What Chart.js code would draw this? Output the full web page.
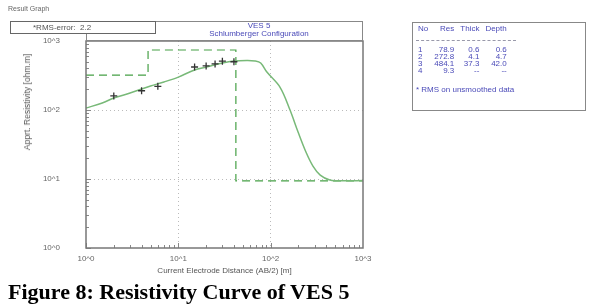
<!DOCTYPE html>
<html>
<head>
<meta charset="utf-8">
<script src="https://cdn.jsdelivr.net/npm/chart.js@4.4.1/dist/chart.umd.min.js"></script>
<style>
  body { margin: 0; background: #fff; font-family: Arial, "Liberation Sans", sans-serif; }
  #wrap { position: relative; width: 592px; height: 305px; overflow: hidden; }
  #ves_chart { position: absolute; left: 0; top: 0; }
  .abs { position: absolute; white-space: nowrap; }
  #result_label { left: 8px; top: 5px; font-size: 7px; color: #666; }
  #title_panel { left: 86px; top: 21px; width: 277px; height: 20px; border: 1px solid #888; box-sizing: border-box; }
  #title_text { left: 155px; top: 22px; width: 208px; text-align: center; font-size: 8px; line-height: 8px; color: #4a4ab8; }
  #rms_box { left: 10px; top: 21px; width: 146px; height: 13px; border: 1px solid #666; background: #fff; box-sizing: border-box; font-size: 8px; line-height: 11px; color: #555; padding-left: 22px; }
  #y_title { left: 27px; top: 102px; transform: translate(-50%, -50%) rotate(-90deg); font-size: 8.5px; color: #555; }
  #layer_box { left: 412px; top: 22px; width: 174px; height: 89px; border: 1px solid #888; box-sizing: border-box; color: #4a4ab8; font-size: 8px; }
  #layer_box table { position: absolute; left: 2px; top: -2px; border-collapse: collapse; }
  #layer_box td { padding: 0 3px; line-height: 7px; text-align: right; }
  #layer_box td:first-child { text-align: left; }
  #layer_sep { left: 3px; top: 17px; width: 100px; border-top: 1px dashed #99a; }
  #layer_note { left: 3px; top: 62px; }
  #caption { left: 8px; top: 279px; font-family: "Liberation Serif", "Times New Roman", serif; font-weight: bold; font-size: 22px; color: #000; }
</style>
</head>
<body>
<div id="wrap">
  <canvas id="ves_chart" width="592" height="305"></canvas>
  <div class="abs" id="result_label">Result Graph</div>
  <div class="abs" id="title_panel"></div>
  <div class="abs" id="title_text">VES 5<br>Schlumberger Configuration</div>
  <div class="abs" id="rms_box">*RMS-error:&nbsp;&nbsp;2.2</div>
  <div class="abs" id="y_title">Apprt. Resistivity [ohm.m]</div>
  <div class="abs" id="layer_box">
    <table id="layer_table"></table>
    <div class="abs" id="layer_sep"></div>
    <div class="abs" id="layer_note">* RMS on unsmoothed data</div>
  </div>
  <div class="abs" id="caption">Figure 8: Resistivity Curve of VES 5</div>
</div>
<script>
// field data (AB/2 in m, apparent resistivity in ohm.m)
const field_ab = [2, 4, 6, 15, 20, 25, 30, 40];
const field_rho = [160, 190, 220, 420, 435, 465, 510, 500];

// smoothed model curve
const curve_ab = [1, 1.5, 2, 3, 5, 7, 10, 15, 20, 30, 40, 55, 68, 78, 91, 126, 162, 198, 241, 287, 344, 437, 640, 1000];
const curve_rho = [107, 126, 149, 176, 223, 255, 300, 380, 418, 480, 513, 522, 514, 480, 355, 215, 100, 48, 24.6, 15.4, 11.4, 9.7, 9.4, 9.5];

// layered model (step line)
const model_ab = [1, 4.7, 42, 1000];
const model_rho = [321, 741, 9.4, 9.4];

// axis ticks
const decade_ticks = [1, 10, 100, 1000];
const decade_labels = ["10^0", "10^1", "10^2", "10^3"];

// layer table
const layer_no = ["1", "2", "3", "4"];
const layer_res = ["78.9", "272.8", "484.1", "9.3"];
const layer_thick = ["0.6", "4.1", "37.3", "--"];
const layer_depth = ["0.6", "4.7", "42.0", "--"];

// build the table text
const table = document.getElementById("layer_table");
let rows = "<tr style='height:15px'><td>No</td><td>Res</td><td>Thick</td><td>Depth</td></tr><tr style='height:10px'><td colspan=4></td></tr>";
for (let i = 0; i < layer_no.length; i++) {
    rows += "<tr><td>" + layer_no[i] + "</td><td>" + layer_res[i] + "</td><td>" + layer_thick[i] + "</td><td>" + layer_depth[i] + "</td></tr>";
}
table.innerHTML = rows;

const toPoints = (xs, ys) => xs.map((v, i) => ({ x: v, y: ys[i] }));
const gridColor = (ctx) => (ctx.tick && (ctx.tick.value === 10 || ctx.tick.value === 100)) ? "#bbb" : "rgba(0,0,0,0)";

// frame and minor ticks
const frame_plugin = {
    id: "frame",
    afterDatasetsDraw(chart) {
        const { ctx, chartArea: a, scales: { x, y } } = chart;
        ctx.save();
        ctx.strokeStyle = "#888";
        ctx.lineWidth = 1;
        ctx.beginPath();
        for (let d = 1; d < 1000; d *= 10) {
            for (let m = 1; m < 10; m++) {
                const len = m === 1 ? 5 : 3;
                const px = Math.round(x.getPixelForValue(d * m)) + 0.5;
                ctx.moveTo(px, a.bottom); ctx.lineTo(px, a.bottom - len);
                const py = Math.round(y.getPixelForValue(d * m)) + 0.5;
                ctx.moveTo(a.left, py); ctx.lineTo(a.left + len, py);
            }
        }
        ctx.stroke();
        ctx.strokeStyle = "#777";
        ctx.lineWidth = 1.5;
        ctx.strokeRect(a.left, a.top, a.right - a.left, a.bottom - a.top);
        ctx.restore();
    }
};

const ves_chart = new Chart("ves_chart", {
    type: "line",
    data: {
        datasets: [{
            label: "field data",
            data: toPoints(field_ab, field_rho),
            showLine: false,
            pointStyle: "cross",
            pointRadius: 3.5,
            pointBorderWidth: 1.3,
            pointBorderColor: "#333",
            order: 0
        }, {
            label: "smoothed curve",
            data: toPoints(curve_ab, curve_rho),
            borderColor: "rgb(120, 185, 120)",
            borderWidth: 1.5,
            pointRadius: 0,
            tension: 0.35,
            fill: false,
            order: 1
        }, {
            label: "model",
            data: toPoints(model_ab, model_rho),
            borderColor: "rgb(70, 160, 70)",
            borderWidth: 1.2,
            borderDash: [8, 5],
            pointRadius: 0,
            stepped: "before",
            fill: false,
            order: 2
        }]
    },
    options: {
        animation: false,
        responsive: false,
        layout: { padding: { left: 0, top: 41, right: 229, bottom: 29 } },
        plugins: { legend: { display: false }, tooltip: { enabled: false } },
        scales: {
            x: {
                type: "logarithmic",
                min: 1,
                max: 1000,
                afterBuildTicks: (s) => { s.ticks = decade_ticks.map(v => ({ value: v })); },
                afterFit: (s) => { s.height = 28; },
                ticks: {
                    autoSkip: false,
                    maxRotation: 0,
                    padding: 6,
                    color: "#666",
                    font: { size: 8 },
                    callback: (v, i) => decade_labels[i]
                },
                grid: { drawTicks: false, color: gridColor, lineWidth: 1 },
                border: { display: false, dash: [1, 3] },
                title: {
                    display: true,
                    text: "Current Electrode Distance (AB/2) [m]",
                    color: "#555",
                    font: { size: 8 },
                    padding: 0
                }
            },
            y: {
                type: "logarithmic",
                min: 1,
                max: 1000,
                afterBuildTicks: (s) => { s.ticks = decade_ticks.map(v => ({ value: v })); },
                afterFit: (s) => { s.width = 86; },
                ticks: {
                    autoSkip: false,
                    padding: 26,
                    color: "#666",
                    font: { size: 8 },
                    callback: (v, i) => decade_labels[i]
                },
                grid: { drawTicks: false, color: gridColor, lineWidth: 1 },
                border: { display: false, dash: [1, 3] }
            }
        }
    },
    plugins: [frame_plugin]
});
</script>
</body>
</html>
